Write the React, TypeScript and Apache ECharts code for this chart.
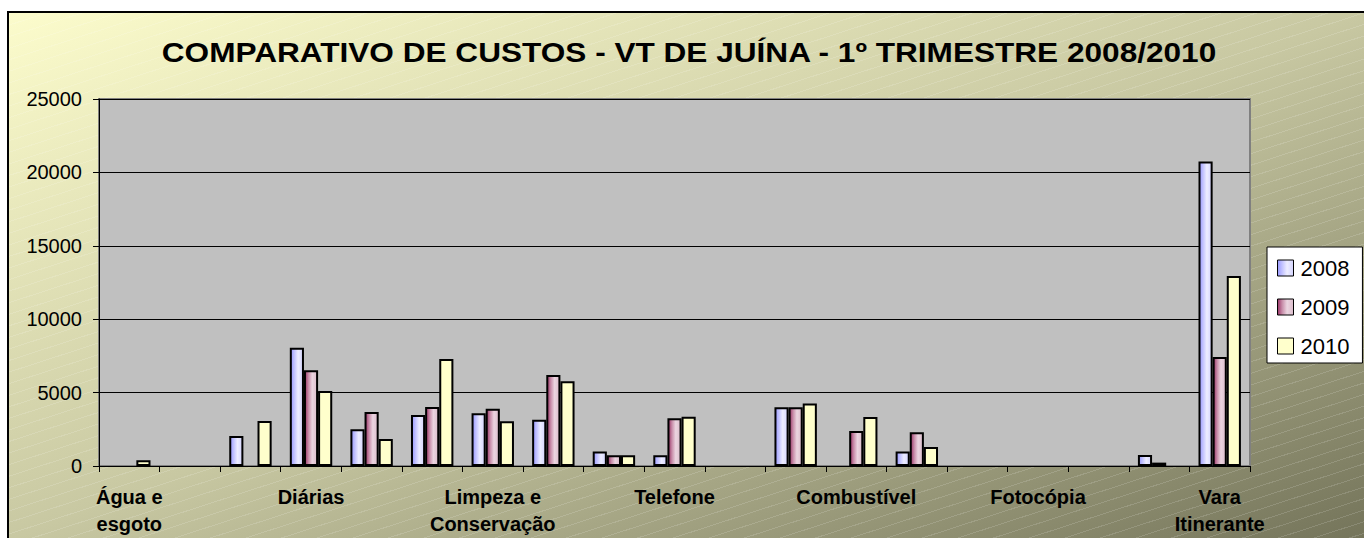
import React, { useEffect, useRef } from 'react';
import * as echarts from 'echarts';

const TITLE = 'COMPARATIVO DE CUSTOS - VT DE JUÍNA - 1º TRIMESTRE 2008/2010';

// 19 categories; only every third label is readable in the reference
const categories = [
  'Água e\nesgoto', '', '',
  'Diárias', '', '',
  'Limpeza e\nConservação', '', '',
  'Telefone', '', '',
  'Combustível', '', '',
  'Fotocópia', '', '',
  'Vara\nItinerante',
];

const seriesNames = ['2008', '2009', '2010'];

const values2008 = [null, null, 2050, 8050, 2500, 3470, 3600, 3150, 980, 730, null, 4000, null, 980, null, null, null, 750, 20750];
const values2009 = [null, null, null, 6520, 3680, 4020, 3900, 6200, 730, 3250, null, 4000, 2380, 2300, null, null, null, 230, 7430];
const values2010 = [400, null, 3060, 5110, 1840, 7290, 3040, 5770, 730, 3360, null, 4250, 3340, 1300, null, null, null, null, 12950];

const yMin = 0;
const yMax = 25000;
const yInterval = 5000;

const FONT = 'Liberation Sans, Arial, sans-serif';

export default function App() {
  const ref = useRef<HTMLDivElement>(null);

  useEffect(() => {
    if (!ref.current) return;
    const chart = echarts.init(ref.current, null, { renderer: 'svg' });

    const grad = (stops: [number, string][]) =>
      new echarts.graphic.LinearGradient(0, 0, 1, 0, stops.map(([offset, color]) => ({ offset, color })));

    const fills = [
      grad([[0, '#9999FF'], [0.3, '#C4C4FF'], [0.6, '#EDEDFF'], [1, '#D4D4FF']]),
      grad([[0, '#993366'], [0.3, '#C98FAB'], [0.6, '#EBD5E0'], [1, '#DCBDCC']]),
      '#FFFFCC',
    ];
    const data = [values2008, values2009, values2010];

    chart.setOption({
      animation: false,
      backgroundColor: 'transparent',
      textStyle: { fontFamily: FONT },
      graphic: [
        {
          type: 'text',
          x: 689,
          y: 52,
          scaleX: 1.17,
          scaleY: 1,
          style: {
            text: TITLE,
            fontSize: 27,
            fontWeight: 'bold',
            fontFamily: FONT,
            fill: '#000',
            textAlign: 'center',
            textVerticalAlign: 'middle',
          },
          z: 10,
        },
      ],
      grid: {
        left: 99,
        right: 114,
        top: 99,
        bottom: 72,
        show: true,
        backgroundColor: '#C0C0C0',
        borderColor: '#808080',
        borderWidth: 2,
        containLabel: false,
      },
      legend: {
        orient: 'vertical',
        left: 1267,
        top: 247,
        data: seriesNames,
        icon: 'rect',
        itemWidth: 16,
        itemHeight: 16,
        itemGap: 17,
        padding: [10, 13, 6, 10],
        backgroundColor: '#FFFFFF',
        borderColor: '#000000',
        borderWidth: 1,
        borderRadius: 0,
        itemStyle: { borderColor: '#000', borderWidth: 1 },
        textStyle: { fontSize: 22, lineHeight: 22, color: '#000', fontFamily: FONT, padding: [0, 0, 0, 2] },
      },
      xAxis: {
        type: 'category',
        data: categories,
        boundaryGap: true,
        axisLine: { show: true, lineStyle: { color: '#000', width: 1 } },
        axisTick: { show: true, interval: 0, length: 6, lineStyle: { color: '#000', width: 1 } },
        axisLabel: {
          interval: 2,
          margin: 17,
          fontSize: 20,
          lineHeight: 27,
          fontWeight: 'bold',
          color: '#000',
          fontFamily: FONT,
        },
        splitLine: { show: false },
      },
      yAxis: {
        type: 'value',
        min: yMin,
        max: yMax,
        interval: yInterval,
        axisLine: { show: true, lineStyle: { color: '#000', width: 1 } },
        axisTick: { show: true, length: 6, lineStyle: { color: '#000', width: 1 } },
        axisLabel: {
          fontSize: 20,
          color: '#000',
          margin: 17,
          fontFamily: FONT,
          formatter: (v: number) => String(v),
        },
        splitLine: { show: true, lineStyle: { color: '#000', width: 1 } },
      },
      series: seriesNames.map((name, i) => ({
        name,
        type: 'bar',
        data: data[i],
        barGap: '0%',
        barCategoryGap: '30%',
        itemStyle: { color: fills[i], borderColor: '#000', borderWidth: 2 },
      })),
    });

    return () => chart.dispose();
  }, []);

  return (
    <div
      style={{
        position: 'absolute',
        left: 0,
        top: 0,
        width: 1364,
        height: 538,
        overflow: 'hidden',
        background: '#FFFFFF',
      }}
    >
      <div
        style={{
          position: 'absolute',
          left: 7,
          top: 11,
          width: 1364 - 7,
          height: 538 - 11,
          borderLeft: '2px solid #000',
          borderTop: '2px solid #000',
          background:
            'repeating-linear-gradient(162deg, rgba(255,255,255,0.14) 0px, rgba(255,255,255,0.14) 1px, rgba(255,255,255,0) 1px, rgba(255,255,255,0) 11px), linear-gradient(to bottom right, #FCFCCC 0%, #C8C8A2 50%, #74745A 100%)',
        }}
      />
      <div ref={ref} style={{ position: 'absolute', left: 0, top: 0, width: 1364, height: 538 }} />
    </div>
  );
}
